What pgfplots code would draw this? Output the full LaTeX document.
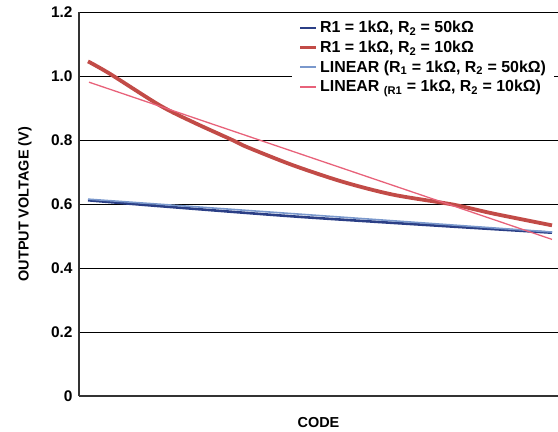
\documentclass[border=0pt]{standalone}
\usepackage{fontspec}
\setmainfont{Liberation Sans}
\usepackage{pgfplots}
\pgfplotsset{compat=1.18}
\definecolor{navy}{HTML}{2B3F86}
\definecolor{dred}{HTML}{C24B47}
\definecolor{lblue}{HTML}{7A98CC}
\definecolor{pinkl}{HTML}{E8627A}
\begin{document}
\begin{tikzpicture}
\begin{axis}[
  scale only axis, width=479bp, height=383.5bp,
  xmin=0, xmax=479, ymin=0, ymax=1.2,
  axis lines=left,
  axis line style={-, line width=1.5bp, color=black!80},
  xtick=\empty,
  ytick={0,0.2,0.4,0.6,0.8,1.0,1.2},
  yticklabels={0,0.2,0.4,0.6,0.8,1.0,1.2},
  ymajorgrids,
  grid style={black, line width=1bp},
  major tick length=0pt,
  tick label style={font=\bfseries\fontsize{15.5}{18}\selectfont},
  yticklabel style={xshift=-3bp},
  /pgf/number format/assume math mode=true,
  xlabel={CODE}, ylabel={OUTPUT VOLTAGE (V)},
  label style={font=\bfseries\fontsize{14.5}{17}\selectfont},
  xlabel style={at={(axis description cs:0.5,-0.068)}, anchor=center},
  ylabel style={at={(axis description cs:-0.113,0.5)}, anchor=center},
  legend style={at={(axis description cs:0.445,0.985)}, anchor=north west,
    draw=none, fill=white, inner xsep=6bp, inner ysep=1bp,
    font=\bfseries\fontsize{16}{19}\selectfont, row sep=2.6bp},
  legend cell align=left,
  legend image code/.code={\draw[#1] (0bp,0bp) -- (16bp,0bp);},
]
\addplot[navy, line width=2.6bp, smooth] coordinates {
 (9,0.6125) (81,0.594) (214,0.562) (348,0.535) (473,0.511)};
\addlegendentry{R1 = 1kΩ, R\textsubscript{2} = 50kΩ}
\addplot[dred, line width=3.8bp, smooth] coordinates {
 (9,1.047) (31,1.008) (81,0.909) (114,0.857) (154,0.800) (168,0.779)
 (214,0.722) (264,0.670) (314,0.630) (374,0.599) (414,0.571) (473,0.534)};
\addlegendentry{R1 = 1kΩ, R\textsubscript{2} = 10kΩ}
\addplot[lblue, line width=1.6bp] coordinates {(9,0.616) (473,0.513)};
\addlegendentry{LINEAR (R\textsubscript{1} = 1kΩ, R\textsubscript{2} = 50kΩ)}
\addplot[pinkl, line width=1.3bp] coordinates {(10,0.982) (473,0.490)};
\addlegendentry{LINEAR \textsubscript{(R1} = 1kΩ, R\textsubscript{2} = 10kΩ)}
\coordinate (SW) at (rel axis cs:0,0);
\coordinate (NE) at (rel axis cs:1,1);
\end{axis}
\pgfresetboundingbox
\path ([shift={(-79bp,-36bp)}]SW) rectangle ([shift={(0bp,12.5bp)}]NE);
\end{tikzpicture}
\end{document}
